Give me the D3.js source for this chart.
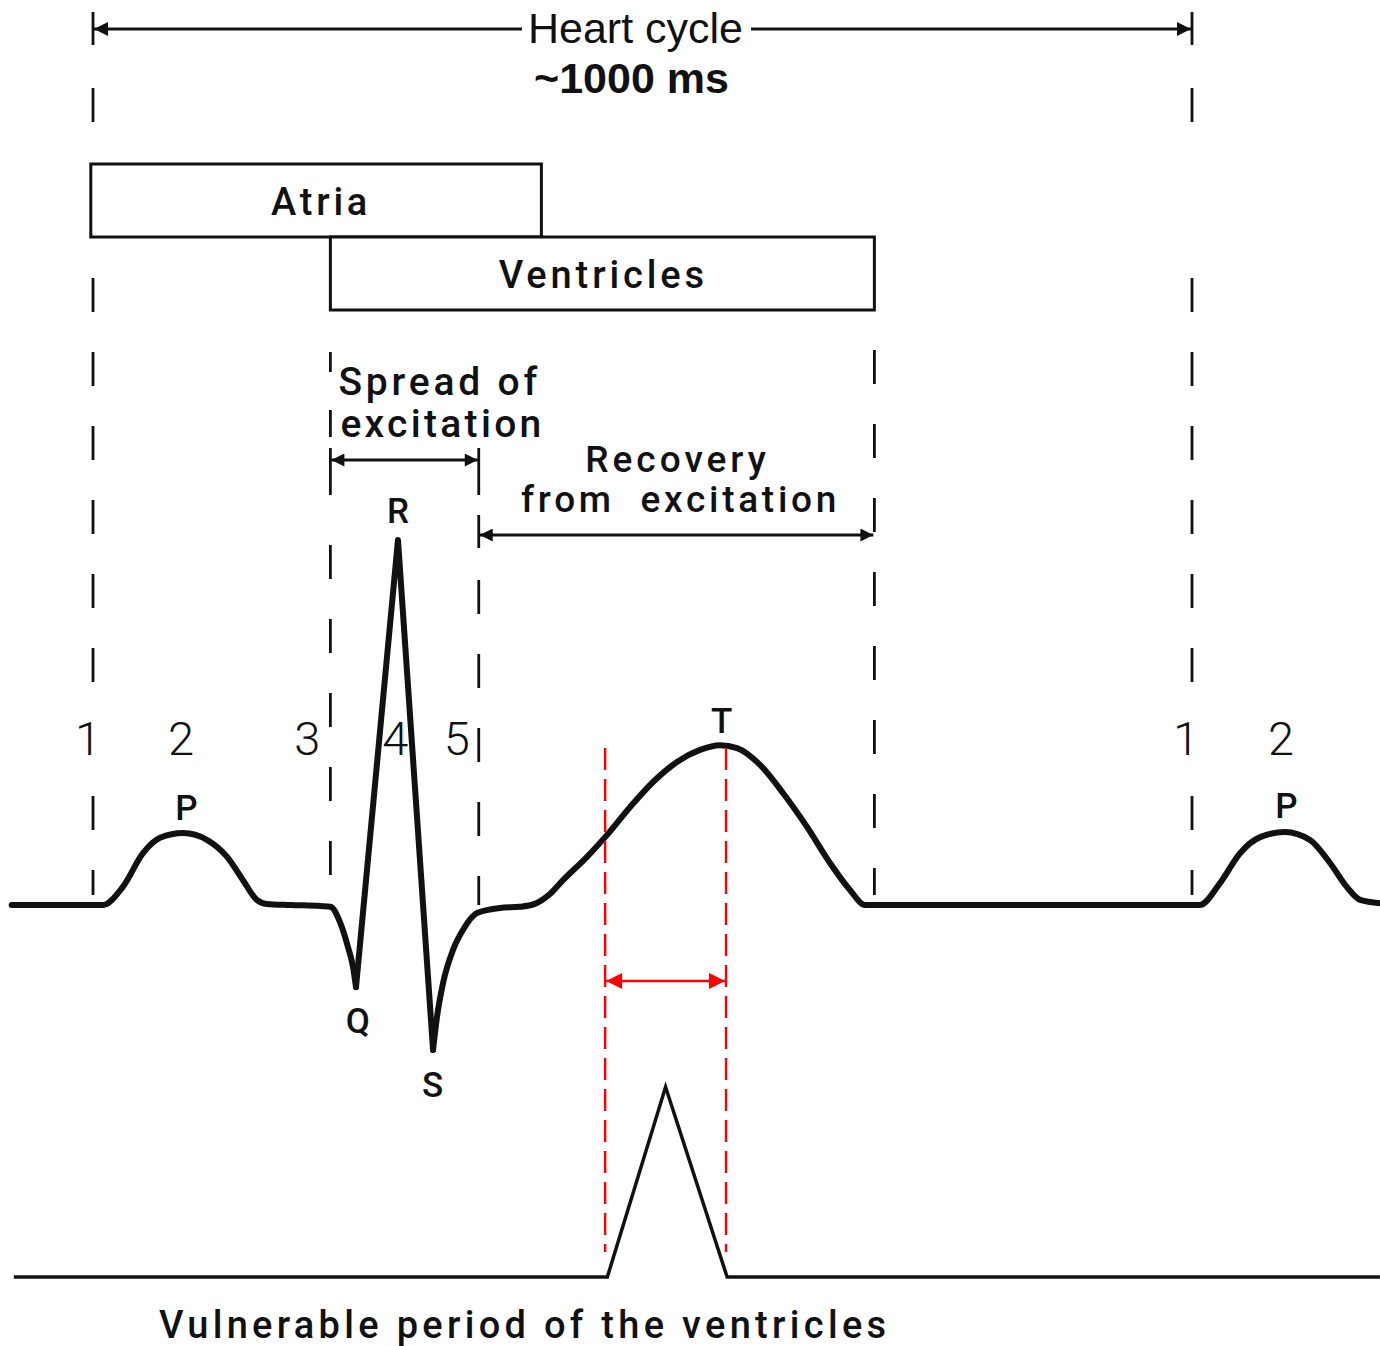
<!DOCTYPE html>
<html>
<head>
<meta charset="utf-8">
<script src="https://cdn.jsdelivr.net/npm/d3@7"></script>
<style>
body { margin: 0; background: #fff; }
svg text { font-family: Roboto, "DejaVu Sans", sans-serif; fill: #111; }
</style>
</head>
<body>
<div id="chart"></div>
<script>
// ECG trace: time in ms from start of the cycle, amplitude relative to R peak (R = 1)
var ecgTime = [-74, 9, 27, 45.5, 61, 82, 104, 122, 136.5, 149, 158, 180, 207, 216, 225, 232, 236.6, 239.3,
               277.5,
               309.4, 313, 318.5, 327.6, 336.7, 349.4, 370.3, 388.5, 402, 415.8, 427.7, 449.5, 466, 488.6, 509.6,
               531.4, 552.3, 570.5, 586, 607, 627.8, 649.7, 670.6, 688.8, 702.5, 1007, 1025.5, 1043.7, 1062,
               1084.6, 1107.4, 1125.6, 1141, 1153, 1171];
var ecgVolt = [0, 0, 0.049, 0.142, 0.184, 0.197, 0.178, 0.132, 0.068, 0.014, 0.003, 0, -0.003, -0.005, -0.049, -0.115, -0.17, -0.225,
               1.0,
               -0.397, -0.307, -0.214, -0.123, -0.068, -0.022, -0.008, -0.005, 0.003, 0.03, 0.068, 0.132, 0.186, 0.268, 0.337,
               0.392, 0.425, 0.438, 0.43, 0.384, 0.307, 0.214, 0.115, 0.041, 0, 0, 0.06, 0.142, 0.186,
               0.2, 0.178, 0.115, 0.049, 0.014, 0.005];
var qIndex = 17, sIndex = 19;   // Q -> R -> S is drawn with straight strokes

var waveLabels = ["P", "Q", "R", "S", "T", "P"];
var waveLabelTime = [85, 241, 277.5, 309, 572, 1086];
var waveLabelVolt = [0.233, -0.351, 1.047, -0.526, 0.471, 0.238];

var phaseNumbers = ["1", "2", "3", "4", "5", "1", "2"];
var phaseTime = [-4.5, 80, 195, 275, 331, 994.5, 1081];
var phaseVolt = 0.411;

var cycleLength = 1000;
var boxNames = ["Atria", "Ventricles"];
var boxStart = [-2, 216];
var boxEnd = [408, 711];

var spreadStart = 216, spreadEnd = 351;     // ms
var recoveryStart = 351, recoveryEnd = 711; // ms

// vulnerable period curve
var vulnTime = [-72, 468, 521, 577, 1171];
var vulnLevel = [0, 0, 1, 0, 0];
var vulnWindow = [466, 576];

var width = 1380, height = 1346;

var svg = d3.select("#chart").append("svg")
            .attr("width", width)
            .attr("height", height);

var x = d3.scaleLinear().domain([0, cycleLength]).range([93, 1192]);
var y = d3.scaleLinear().domain([0, 1]).range([905, 540]);
var yVuln = d3.scaleLinear().domain([0, 1]).range([1277, 1087]);

// arrow heads
var defs = svg.append("defs");
function addMarker(id, w, h, color) {
    defs.append("marker")
        .attr("id", id)
        .attr("viewBox", "0 0 10 10")
        .attr("refX", 10).attr("refY", 5)
        .attr("markerUnits", "userSpaceOnUse")
        .attr("markerWidth", w).attr("markerHeight", h)
        .attr("orient", "auto-start-reverse")
        .append("path")
            .attr("d", "M0,0 L10,5 L0,10 z")
            .attr("fill", color);
}
addMarker("arrowBig", 21, 14, "#111");
addMarker("arrowSmall", 17, 13, "#111");
addMarker("arrowRed", 17, 16, "#ff0000");

// vertical guide lines (dashed)
function vline(t, y0, y1, dashed) {
    svg.append("line")
        .attr("x1", x(t)).attr("x2", x(t))
        .attr("y1", y0).attr("y2", y1)
        .attr("stroke", "#111")
        .attr("stroke-width", 2.8)
        .attr("stroke-dasharray", dashed ? "34,40" : null);
}
[0, cycleLength].forEach(function(t) {
    vline(t, 12, 45, false);
    vline(t, 88, 122, false);
    vline(t, 278, 690, true);   // the number "1" takes the place of a dash
    vline(t, 796, 895, true);
});
vline(spreadStart, 352, 372, false);
vline(spreadStart, 410, 437, false);
vline(spreadStart, 448, 495, false);
vline(spreadStart, 545, 900, true);
vline(recoveryStart, 448, 495, false);
vline(recoveryStart, 515, 548, false);
vline(recoveryStart, 580, 905, true);
vline(recoveryEnd, 350, 895, true);

// heart cycle arrow + text
var hcText = svg.append("text")
    .attr("x", x(cycleLength / 2) - 7)
    .attr("y", 43)
    .attr("text-anchor", "middle")
    .style("font-family", "'Liberation Sans', Arial, sans-serif")
    .attr("font-size", 43)
    .text("Heart cycle");
svg.append("text")
    .attr("x", x(cycleLength / 2) - 11)
    .attr("y", 93)
    .attr("text-anchor", "middle")
    .style("font-family", "'Liberation Sans', Arial, sans-serif")
    .attr("font-weight", "bold")
    .attr("font-size", 43)
    .text("~1000 ms");
var bb = hcText.node().getBBox();
svg.append("line")
    .attr("x1", bb.x - 6).attr("x2", x(0) + 1)
    .attr("y1", 29).attr("y2", 29)
    .attr("stroke", "#111").attr("stroke-width", 3)
    .attr("marker-end", "url(#arrowBig)");
svg.append("line")
    .attr("x1", bb.x + bb.width + 8).attr("x2", x(cycleLength) - 1)
    .attr("y1", 29).attr("y2", 29)
    .attr("stroke", "#111").attr("stroke-width", 3)
    .attr("marker-end", "url(#arrowBig)");

// atria / ventricles boxes
var boxTop = [164, 237];
var boxH = 73;
svg.selectAll("rect.phase")
    .data(boxNames)
    .enter().append("rect")
        .attr("class", "phase")
        .attr("x", function(d, i) { return x(boxStart[i]); })
        .attr("y", function(d, i) { return boxTop[i]; })
        .attr("width", function(d, i) { return x(boxEnd[i]) - x(boxStart[i]); })
        .attr("height", boxH)
        .attr("fill", "#fff")
        .attr("stroke", "#111")
        .attr("stroke-width", 3);
svg.selectAll("text.phase")
    .data(boxNames)
    .enter().append("text")
        .attr("class", "phase")
        .attr("x", function(d, i) { return (x(boxStart[i]) + x(boxEnd[i])) / 2 + (i == 0 ? 5 : 1); })
        .attr("y", function(d, i) { return boxTop[i] + 51; })
        .attr("text-anchor", "middle")
        .attr("font-size", 38)
        .attr("font-weight", 500)
        .attr("letter-spacing", function(d, i) { return i == 0 ? 3.8 : 3.9; })
        .text(function(d) { return d; });

// spread of excitation
svg.append("text")
    .attr("x", x(spreadStart) + 8).attr("y", 395)
    .attr("font-size", 39).attr("font-weight", 500).attr("letter-spacing", 3.8)
    .text("Spread of");
svg.append("text")
    .attr("x", x(spreadStart) + 10).attr("y", 437)
    .attr("font-size", 39).attr("font-weight", 500).attr("letter-spacing", 3.3)
    .text("excitation");
svg.append("line")
    .attr("x1", x(spreadStart) + 1).attr("x2", x(spreadEnd) - 1)
    .attr("y1", 460).attr("y2", 460)
    .attr("stroke", "#111").attr("stroke-width", 3)
    .attr("marker-start", "url(#arrowSmall)")
    .attr("marker-end", "url(#arrowSmall)");

// recovery from excitation
var recMid = (x(recoveryStart) + x(recoveryEnd)) / 2;
svg.append("text")
    .attr("x", recMid + 1).attr("y", 472)
    .attr("text-anchor", "middle")
    .attr("font-size", 37).attr("font-weight", 500).attr("letter-spacing", 4)
    .text("Recovery");
svg.append("text")
    .attr("x", recMid + 4).attr("y", 512)
    .attr("text-anchor", "middle")
    .attr("font-size", 37).attr("font-weight", 500).attr("letter-spacing", 3.7)
    .style("white-space", "pre")
    .text("from  excitation");
svg.append("line")
    .attr("x1", x(recoveryStart) + 1).attr("x2", x(recoveryEnd) - 1)
    .attr("y1", 535).attr("y2", 535)
    .attr("stroke", "#111").attr("stroke-width", 3)
    .attr("marker-start", "url(#arrowSmall)")
    .attr("marker-end", "url(#arrowSmall)");

// ECG trace
var ecg = ecgTime.map(function(t, i) { return [t, ecgVolt[i]]; });
var smoothLine = d3.line()
    .x(function(d) { return x(d[0]); })
    .y(function(d) { return y(d[1]); })
    .curve(d3.curveMonotoneX);
var straightLine = d3.line()
    .x(function(d) { return x(d[0]); })
    .y(function(d) { return y(d[1]); });
[
    [ecg.slice(0, qIndex + 1), smoothLine],
    [ecg.slice(qIndex, sIndex + 1), straightLine],
    [ecg.slice(sIndex), smoothLine]
].forEach(function(seg) {
    svg.append("path")
        .attr("d", seg[1](seg[0]))
        .attr("fill", "none")
        .attr("stroke", "#111")
        .attr("stroke-width", 6)
        .attr("stroke-linejoin", "round")
        .attr("stroke-linecap", "round");
});

// wave letters
svg.selectAll("text.wave")
    .data(waveLabels)
    .enter().append("text")
        .attr("class", "wave")
        .attr("x", function(d, i) { return x(waveLabelTime[i]); })
        .attr("y", function(d, i) { return y(waveLabelVolt[i]); })
        .attr("text-anchor", "middle")
        .attr("font-size", 35)
        .attr("font-weight", 500)
        .text(function(d) { return d; });

// phase numbers
svg.selectAll("text.num")
    .data(phaseNumbers)
    .enter().append("text")
        .attr("class", "num")
        .attr("x", function(d, i) { return x(phaseTime[i]); })
        .attr("y", y(phaseVolt))
        .attr("text-anchor", "middle")
        .attr("font-size", 47)
        .attr("font-weight", 300)
        .text(function(d) { return d; });

// vulnerable window (red)
vulnWindow.forEach(function(t) {
    svg.append("line")
        .attr("x1", x(t)).attr("x2", x(t))
        .attr("y1", 748).attr("y2", 1252)
        .attr("stroke", "#ff0000")
        .attr("stroke-width", 2.4)
        .attr("stroke-dasharray", "22,9");
});
svg.append("line")
    .attr("x1", x(vulnWindow[0]) + 1).attr("x2", x(vulnWindow[1]) - 1)
    .attr("y1", 981).attr("y2", 981)
    .attr("stroke", "#ff0000").attr("stroke-width", 2.6)
    .attr("marker-start", "url(#arrowRed)")
    .attr("marker-end", "url(#arrowRed)");

// vulnerable period curve
var vuln = vulnTime.map(function(t, i) { return [t, vulnLevel[i]]; });
svg.append("path")
    .attr("d", d3.line()
        .x(function(d) { return x(d[0]); })
        .y(function(d) { return yVuln(d[1]); })(vuln))
    .attr("fill", "none")
    .attr("stroke", "#111")
    .attr("stroke-width", 3.5)
    .attr("stroke-linejoin", "miter");

svg.append("text")
    .attr("x", x(60)).attr("y", 1338)
    .attr("font-size", 38).attr("font-weight", 500).attr("letter-spacing", 4.3)
    .style("white-space", "pre")
    .text("Vulnerable period of the ventricles");
</script>
</body>
</html>
